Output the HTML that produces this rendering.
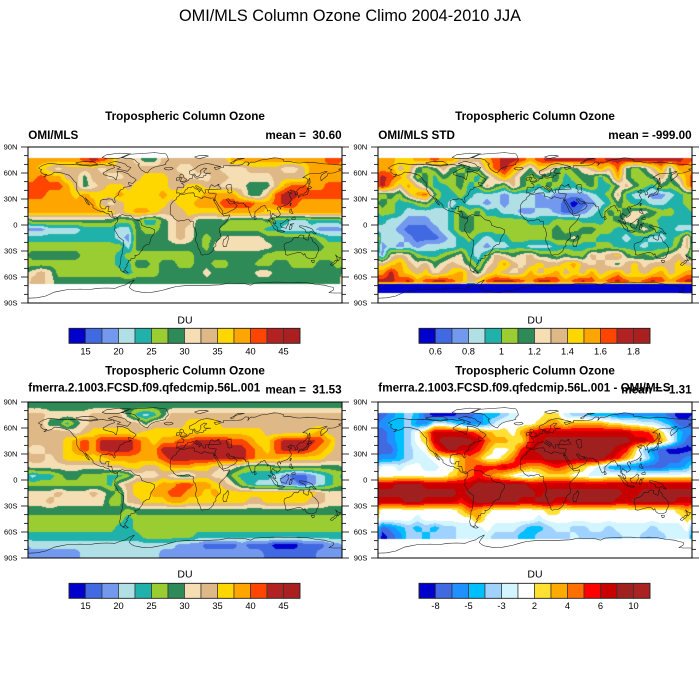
<!DOCTYPE html>
<html><head><meta charset="utf-8">
<style>
html,body{margin:0;padding:0;background:#fff;}
#wrap{position:relative;width:700px;height:700px;overflow:hidden;background:#fff;}
canvas{position:absolute;display:block;}
#ov{position:absolute;left:0;top:0;}
text{font-family:"Liberation Sans",Arial,Helvetica,sans-serif;fill:#000;}
.t{font-size:11.7px;font-weight:bold;}
.ax{font-size:7.6px;text-anchor:end;}
.cb{font-size:9.3px;text-anchor:middle;}
.du{font-size:10.5px;text-anchor:middle;}
</style></head><body><div id="wrap">
<canvas id="mA" width="314" height="156" style="left:28px;top:147px"></canvas>
<canvas id="mB" width="314" height="156" style="left:378px;top:147px"></canvas>
<canvas id="mC" width="314" height="156" style="left:28px;top:402px"></canvas>
<canvas id="mD" width="314" height="156" style="left:378px;top:402px"></canvas>
<svg id="ov" width="700" height="700" xmlns="http://www.w3.org/2000/svg">
<text x="350" y="21" text-anchor="middle" font-size="16.3">OMI/MLS Column Ozone Climo 2004-2010 JJA</text>

<text class="t" x="185" y="120" text-anchor="middle">Tropospheric Column Ozone</text>
<text class="t" x="535" y="120" text-anchor="middle">Tropospheric Column Ozone</text>
<text class="t" x="185" y="374.5" text-anchor="middle">Tropospheric Column Ozone</text>
<text class="t" x="535" y="374.5" text-anchor="middle">Tropospheric Column Ozone</text>

<text class="t" x="28.3" y="139">OMI/MLS</text>
<text class="t" x="341.7" y="139" text-anchor="end">mean =&#160; 30.60</text>
<text class="t" x="378.3" y="139">OMI/MLS STD</text>
<text class="t" x="691.7" y="139" text-anchor="end">mean = -999.00</text>
<text class="t" x="28.3" y="391.6">fmerra.2.1003.FCSD.f09.qfedcmip.56L.001</text>
<text class="t" x="341.7" y="393.3" text-anchor="end">mean =&#160; 31.53</text>
<text class="t" x="378.3" y="391.6">fmerra.2.1003.FCSD.f09.qfedcmip.56L.001 - OMI/MLS</text>
<text class="t" x="691.7" y="393.3" text-anchor="end">mean = -1.31</text>

<text class="ax" x="17.5" y="149.7">90N</text><text class="ax" x="17.5" y="175.7">60N</text><text class="ax" x="17.5" y="201.7">30N</text><text class="ax" x="17.5" y="227.7">0</text><text class="ax" x="17.5" y="253.7">30S</text><text class="ax" x="17.5" y="279.7">60S</text><text class="ax" x="17.5" y="305.7">90S</text>
<text class="ax" x="367.3" y="149.7">90N</text><text class="ax" x="367.3" y="175.7">60N</text><text class="ax" x="367.3" y="201.7">30N</text><text class="ax" x="367.3" y="227.7">0</text><text class="ax" x="367.3" y="253.7">30S</text><text class="ax" x="367.3" y="279.7">60S</text><text class="ax" x="367.3" y="305.7">90S</text>
<text class="ax" x="17.5" y="404.7">90N</text><text class="ax" x="17.5" y="430.7">60N</text><text class="ax" x="17.5" y="456.7">30N</text><text class="ax" x="17.5" y="482.7">0</text><text class="ax" x="17.5" y="508.7">30S</text><text class="ax" x="17.5" y="534.7">60S</text><text class="ax" x="17.5" y="560.7">90S</text>
<text class="ax" x="367.3" y="404.7">90N</text><text class="ax" x="367.3" y="430.7">60N</text><text class="ax" x="367.3" y="456.7">30N</text><text class="ax" x="367.3" y="482.7">0</text><text class="ax" x="367.3" y="508.7">30S</text><text class="ax" x="367.3" y="534.7">60S</text><text class="ax" x="367.3" y="560.7">90S</text>

<text class="du" x="185" y="323.5">DU</text>
<text class="du" x="535" y="323.5">DU</text>
<text class="du" x="185" y="577.5">DU</text>
<text class="du" x="535" y="577.5">DU</text>

<text class="cb" x="85.5" y="354.3">15</text><text class="cb" x="118.5" y="354.3">20</text><text class="cb" x="151.5" y="354.3">25</text><text class="cb" x="184.5" y="354.3">30</text><text class="cb" x="217.5" y="354.3">35</text><text class="cb" x="250.5" y="354.3">40</text><text class="cb" x="283.5" y="354.3">45</text>
<text class="cb" x="435.5" y="354.3">0.6</text><text class="cb" x="468.5" y="354.3">0.8</text><text class="cb" x="501.5" y="354.3">1</text><text class="cb" x="534.5" y="354.3">1.2</text><text class="cb" x="567.5" y="354.3">1.4</text><text class="cb" x="600.5" y="354.3">1.6</text><text class="cb" x="633.5" y="354.3">1.8</text>
<text class="cb" x="85.5" y="608.8">15</text><text class="cb" x="118.5" y="608.8">20</text><text class="cb" x="151.5" y="608.8">25</text><text class="cb" x="184.5" y="608.8">30</text><text class="cb" x="217.5" y="608.8">35</text><text class="cb" x="250.5" y="608.8">40</text><text class="cb" x="283.5" y="608.8">45</text>
<text class="cb" x="435.5" y="608.8">-8</text><text class="cb" x="468.5" y="608.8">-5</text><text class="cb" x="501.5" y="608.8">-3</text><text class="cb" x="534.5" y="608.8">2</text><text class="cb" x="567.5" y="608.8">4</text><text class="cb" x="600.5" y="608.8">6</text><text class="cb" x="633.5" y="608.8">10</text>
<g id="dyn"></g>
</svg>
</div>
<script>
(function(){
var PA=["#0000CD","#4169E1","#7399EE","#B0E0E6","#20B2AA","#9ACD32","#2E8B57","#F5DEB3","#DEB887","#FFD700","#FFA500","#FF4500","#B22222","#AA2020"];
var PD=["#0000CD","#4169E1","#1E90FF","#00BFFF","#A0D2FF","#D2F5FF","#FFFFFF","#FFE033","#FFAA00","#FF6E00","#FF0000","#C80000","#A02020","#AA2222"];
var A1="aaaaaabcba 8876688888 888aaaaaaa aaaabb";
var A15="8876666666 6666666666 6666666666 666666";
var GA=[A1,A1,
"a987888878 8888888778 8877788887 78aaaa",
"abaa886887 7889998877 7887777788 88aaaa",
"bbbba86789 9899998899 887776668a bbaabb",
"bbaaa9a999 a9999a9999 aaaa8668bc cbbbbb",
"aaaaaaaa87 899999899a aabbbbaabc baaaaa",
"aaaaaaaaa9 89aa988899 99aaaaa999 aaaaaa",
"6666666666 5564467886 6665555644 334444",
"2233334444 3365567876 6655555443 333222",
"4444444444 3266667876 5677777666 666544",
"5555555555 5366666666 5777777766 666655",
"6666665555 4555555556 6666666555 555555",
"5555555555 4466566556 6556665566 555665",
"7875555555 5455566666 7666667766 666666",
A15,A15,A15];
var B1="aa99aabaa8 88abccbabc cccccbcccc cccccb";
var GB=[B1,B1,
"aa89656865 669bca8698 65678a8b65 68a6aa",
"cba8564656 5468a86565 6456646a65 56868a",
"ca8a864456 4586586546 5445644686 54656a",
"5658ab6445 4333233323 2222345843 322345",
"6544564434 3323233322 2101234654 433445",
"5543333346 5644332233 2112346567 765544",
"4332223346 6555555444 5554445677 554444",
"3321112346 6555555555 6556655446 764433",
"3332111234 5434455555 6675544434 433458",
"2323233334 4323344333 4444455444 344468",
"2787544567 4358767866 5655878965 656786",
"89a8786787 6478a87898 89a8787689 788898",
"aca989789a 8689878a89 a898a89a89 89a89a",
"ccbcabccba 89bcccbacc babcbabcba bcbabc",
"0000000000 0000000000 0000000000 000000",
"0000000000 0000000000 0000000000 000000"];
var GC=[
"6666666666 6666666666 6666666666 666666",
"8877777888 8643468888 8888888888 888888",
"8866467888 8886888899 9988888888 888888",
"8888878999 9989999999 9999999888 889a88",
"88889abacc ccba9aabbc cccbba99bc cccba8",
"77889abacc ccbaaccccc cccccba9bc ccba98",
"887899999a aaaaabcccc cccccbaaa9 999988",
"7777777778 899889aaa9 9877655566 666666",
"3445665554 4577787668 8775444432 112345",
"5555555554 78999aabba a987543332 212345",
"7778777876 5899aabbaa 9a99999999 999877",
"7787777775 588999aa99 9999988999 998877",
"6666666666 6566666666 6666666666 666666",
"5555555555 5455555555 5555555555 555555",
"5555555555 4455555555 5555555555 555555",
"4444444444 4445555554 4444444444 444444",
"3333333333 3333333222 1111211100 011122",
"2222223333 3333322222 2222222111 111222"];
var D1="1234310001 1233456667 7544333222 222100";
var D15="0124434445 5554443344 4454444455 444555";
var GD=[D1,D1,
"2334225543 2235666678 8788887766 554311",
"123468bbbb a987768abb bbbbbbbbba a97532",
"123467bccc cb98877abc cccccccccb ba8631",
"1134569bcb ba8667abcc cccccccba7 421000",
"2234556668 986679bbbc ccccccba86 531112",
"6656655668 9aaaba9889 a987653222 111223",
"6666666678 9a98765567 7766556666 666666",
"bbcccbbbbb bccccccbbb bbbbbbbbbb bbbbbb",
"cccccccccb ccccccccbc ccccccccbb cccccc",
"bbbccbbbba bcccccbbcc bbcccccbbc ccccbb",
"6666666667 9876666667 7666666666 666678",
"6666566666 6866666656 6666666666 666667",
"1234343445 5565554334 5544554555 545556",
D15,D15,D15];

function hex(h){return [parseInt(h.substr(1,2),16),parseInt(h.substr(3,2),16),parseInt(h.substr(5,2),16)];}
function parse(G){return G.map(function(s){s=s.replace(/ /g,'');while(s.length<36)s+=s.charAt(s.length-1);s=s.substr(0,36);return s.split('').map(function(c){return parseInt(c,16);});});}
var WHITE=[255,255,255], BLUE=[0,0,205];
function draw(id,G,pal,mask){
  var c=document.getElementById(id),ctx=c.getContext('2d');
  var W=c.width,H=c.height,img=ctx.createImageData(W,H),d=img.data;
  var g=parse(G),P=pal.map(hex);
  for(var y=0;y<H;y++){
    var lat=90-(y+0.5)/H*180;
    var fr=(85-lat)/10; if(fr<0)fr=0; if(fr>17)fr=17;
    var j0=Math.floor(fr); if(j0>16)j0=16; var tj=fr-j0;
    var m=mask(lat);
    for(var x=0;x<W;x++){
      var col;
      if(m){col=m;}else{
        var lon=-180+(x+0.5)/W*360;
        var fc=(lon+175)/10,i0=Math.floor(fc),ti=fc-i0;
        i0=((i0%36)+36)%36; var i1=(i0+1)%36;
        var v=(g[j0][i0]*(1-ti)+g[j0][i1]*ti)*(1-tj)+(g[j0+1][i0]*(1-ti)+g[j0+1][i1]*ti)*tj;
        var k=Math.round(v); if(k<0)k=0; if(k>13)k=13; col=P[k];
      }
      var o=(y*W+x)*4; d[o]=col[0];d[o+1]=col[1];d[o+2]=col[2];d[o+3]=255;
    }
  }
  ctx.putImageData(img,0,0);
}
function mAD(lat){return (lat>77.5||lat<-67.5)?WHITE:null;}
function mB(lat){if(lat>77.5)return WHITE; if(lat<-78.5)return WHITE; if(lat<-67.5)return BLUE; return null;}
function mC(lat){return null;}
draw('mA',GA,PA,mAD); draw('mB',GB,PA,mB); draw('mC',GC,PA,mC); draw('mD',GD,PD,mAD);

var NS="http://www.w3.org/2000/svg", dyn=document.getElementById('dyn');
function el(n,a){var e=document.createElementNS(NS,n);for(var k in a)e.setAttribute(k,a[k]);dyn.appendChild(e);return e;}

var coasts=[
[[-168,66],[-163,69],[-156,71.3],[-141,69.6],[-128,70],[-115,68.5],[-108,68],[-95,70],[-88,68.5],[-82,69.5],[-81,66],[-87,64],[-94,60],[-93,58],[-88,56.5],[-82,55],[-79,52],[-78,56],[-77,59],[-78,62],[-73,62],[-70,61],[-65,59],[-62,56],[-58,54],[-56,52],[-60,48],[-65,49],[-64,46],[-61,45.5],[-66,44],[-70,43.5],[-71,41.5],[-74,40.5],[-76,37],[-76,35],[-79,33],[-81,31],[-80,27],[-80.5,25.3],[-82,26.5],[-83,29],[-85,30],[-89,30.2],[-90,29],[-94,29.7],[-97,28],[-97.5,24],[-97.5,21.5],[-95,18.7],[-91.5,18.5],[-90.5,21],[-87,21.5],[-88,17],[-88.5,15.8],[-84,15.8],[-83.3,12],[-83.5,10.5],[-81.5,9],[-79.5,9.5],[-77.5,8.5],[-78,7.5],[-80,7.3],[-81,8],[-83.5,8.5],[-85.7,10],[-87.5,13],[-91.5,14],[-94.5,16],[-97,15.8],[-101,17.3],[-105.5,20],[-105.5,22.5],[-108,25],[-110,27],[-112.5,29.5],[-114.5,31.5],[-112.5,28],[-110,24],[-109.5,23],[-112,24.5],[-114,27.5],[-115,30],[-117,32.5],[-120.5,34.5],[-122.5,37.5],[-124,40.5],[-124,46],[-124.5,48.5],[-127,50.5],[-130,54.5],[-133,57.5],[-136.5,58.5],[-140,59.8],[-146,60.8],[-150,61],[-152,59],[-154,58],[-158,57],[-162,55.5],[-158.5,58.5],[-162,58.5],[-165,60.5],[-165.5,62.5],[-164,64],[-166,64.5],[-168,65.5]],
[[-73,78],[-65,81.5],[-50,82.5],[-35,83.5],[-22,82],[-20,79],[-19,75],[-22,72],[-22,70],[-27,68.5],[-33,67.5],[-38,65.5],[-41,63],[-43,60],[-46,61],[-50,63.5],[-52,66],[-54,69.5],[-52,70.5],[-55,72.5],[-58,75.5],[-62,76.5],[-68,77]],
[[-80,73.5],[-72,71.5],[-68,70],[-66,67.5],[-62,66.5],[-64,64],[-66,62],[-72,63.5],[-78,64.5],[-74,66.5],[-78,68],[-85,70],[-88,71]],
[[-125,72],[-115,73.5],[-105,73],[-100,70],[-108,69],[-118,69.5],[-125,71]],
[[-90,76.5],[-78,76.5],[-70,78.5],[-62,82],[-75,83],[-90,81],[-95,78]],
[[-24,65.5],[-21,66.2],[-15,66.5],[-13.5,65],[-18,63.5],[-22.5,63.8]],
[[-5.5,50],[1.3,51],[1.7,52.8],[0,53.5],[-1.5,55],[-2,57.5],[-3.5,58.6],[-5,58.6],[-6,57],[-5.5,55],[-3,54.5],[-4.5,53.3],[-4.5,52],[-5.2,51.7]],
[[-6,52],[-6,54.5],[-8,55.2],[-10,54],[-10,51.6]],
[[-77.5,8.5],[-75,10.8],[-72,12],[-70,11.5],[-67,10.6],[-62,10.6],[-60,8.5],[-57,6],[-52,5],[-50,1.8],[-50,0],[-48,-1],[-44,-2.5],[-40,-3],[-35,-5.5],[-35,-9],[-37,-12],[-39,-15],[-39.5,-18],[-41,-22],[-44.5,-23],[-48,-25.5],[-48.7,-28.5],[-51,-31],[-53,-34],[-55,-35],[-57.5,-35],[-57,-37],[-58,-38.5],[-62,-39],[-62.3,-41],[-65,-41],[-64.5,-42.5],[-67,-45.5],[-66,-47],[-69,-50.5],[-68.5,-52.5],[-70,-53.5],[-71.5,-54],[-74,-52],[-75,-48],[-74,-44],[-73.5,-40],[-73.5,-37],[-71.5,-32],[-71.3,-28],[-70.5,-23],[-70.2,-18.5],[-72,-17],[-76,-14],[-77,-12],[-79.5,-7.5],[-81.2,-5.5],[-80,-3],[-80.5,-1],[-80,1],[-78.5,2.5],[-77.3,4],[-77.5,7]],
[[-68.5,-52.5],[-65,-55],[-68,-55.5],[-71,-54.5]],
[[-17,14.7],[-16.5,19.5],[-17,21],[-16,24],[-13.5,27.5],[-10,29.5],[-9.8,31.5],[-6.5,34],[-5.8,35.8],[-2,35.1],[3,36.8],[10,37.2],[11,35],[10.5,33.5],[15,32.3],[19.5,30.3],[20,32],[23,32.6],[25,31.7],[29,30.9],[32.5,31.2],[34.2,31.2],[34,28],[32.5,29.8],[33.5,27],[35.5,24],[37.3,21],[38.5,18],[39.7,15.5],[42,13],[43.3,12],[44.5,10.4],[51.2,11.8],[51,10.4],[48,5],[45,2],[42,-1],[40.2,-3],[39.2,-5],[39.5,-8],[40.5,-10.5],[40.5,-15],[37,-18],[35.2,-21.5],[35.5,-24],[33,-26],[32.5,-29],[30,-31.5],[27.5,-33.5],[25,-34],[22,-34.2],[20,-34.8],[18.4,-34],[18,-32],[16.5,-28.5],[15,-26.5],[14.5,-22.5],[12,-18],[11.8,-15.5],[13.5,-12],[13,-9],[12,-6],[12,-4.5],[10,-2.5],[9.3,0],[9.5,2.5],[9.5,4],[8.5,4.5],[6,4.3],[4.5,6.3],[2,6.3],[-2,4.8],[-5,5.1],[-7.5,4.4],[-9.5,5.5],[-11.5,6.8],[-13,8],[-13.3,9.5],[-15,11],[-16.7,12.5]],
[[44.2,-25],[47.2,-25],[49.5,-17],[50.3,-15.5],[49.2,-12],[48,-13.5],[46.4,-15.8],[44.3,-17],[43.3,-22]],
[[-9.5,36.5],[-9.4,39],[-8.9,43],[-7.8,43.7],[-1.5,43.4],[-1.2,46],[-2.5,47.3],[-4.5,48.5],[-1.5,48.7],[1.5,50.2],[4,51.5],[5,53.3],[8.5,53.8],[8.5,57],[10.5,57.7],[10.5,56],[12,54.3],[14,54],[18,54.8],[21,55.2],[21.5,57.2],[24,57.2],[24,59.3],[29.5,59.8],[22.5,60],[21.5,62],[25,65],[22,65.8],[17.5,62.5],[18.5,60],[16.5,57],[14,55.5],[12.7,56],[11,59],[8,58.1],[5.5,58.9],[5,62],[8,63.5],[12,65.5],[15,68],[19,69.8],[25,71],[31,70],[33,69.3],[41,67.3],[33.5,66.5],[35,64.3],[37.5,64.5],[41,66],[44,66.2],[44,68.5],[53.5,68.5],[60,68.8],[65,69.5],[69,72.8],[73,72.5],[72,68.5],[75,72.5],[80,72.5],[87,75],[95,76],[102,77.5],[107,77.2],[113,75.5],[113,73.5],[121,73],[129,71.5],[133,71.5],[140,72.5],[150,71.8],[160,70.5],[170,70],[180,69],[180,65],[176,64.5],[178.5,63],[173,61],[170,60],[164,59.8],[163,57],[162,56],[156,51],[155.5,55],[156.5,57.7],[161,60.2],[163,61.6],[160,61.5],[154,59.3],[148,59.3],[142,59],[135,54.7],[139,54.2],[141,52.3],[140.5,48.5],[138,46],[135,43.3],[132,43.2],[129.7,41],[128,39],[129.3,37],[129.2,35.3],[126.5,34.5],[126.2,37.3],[124.7,39.7],[121.5,39],[121.6,40.9],[119,39],[117.5,38.5],[119,37.2],[122.5,37],[120.5,36],[119.5,34.5],[121,32],[122,30],[121.5,28],[119.6,25.5],[117,23.5],[113.5,22.2],[110,21],[109.7,18.3],[108,21.5],[106,20],[105.7,18.8],[107.5,16.5],[109.3,13],[109,11.5],[106.5,9.5],[105,8.6],[104.8,10.5],[103,11],[100.5,13.5],[99.2,10],[100.3,6.5],[101.3,2.9],[103.5,1.3],[104.2,1.5],[103.2,5],[102.2,6.2],[100.6,7],[98.3,8.2],[98.5,12],[97.5,16.7],[94.3,16],[94.2,18.5],[92.3,20.7],[91.5,22.8],[89,21.8],[86.8,21],[86.5,20],[85,19.3],[82.2,16.6],[80.2,15.5],[80,10.3],[77.5,8],[76.5,8.9],[74.8,12.8],[73.5,16],[72.8,19],[72.6,21.3],[70.5,20.8],[68.8,22.3],[70.2,22.8],[68.2,23.7],[66.5,25.4],[61.5,25.2],[57.4,25.7],[56.4,27.1],[54,26.7],[51.5,27.9],[50.1,30.2],[48,30],[47.5,29],[48.8,27.7],[50,26.5],[50.8,24.8],[51.6,24.2],[52.5,24.2],[54.5,24.3],[56.2,26.2],[56.4,24.9],[58.8,23.6],[59.8,22.3],[58.5,20.4],[57.7,19],[55.3,17.6],[52.4,16.4],[48.7,14],[45,13],[43.5,12.6],[42.6,15.5],[42.7,16.8],[40.5,19.8],[38.9,22],[37.5,24.3],[35.5,27.7],[34.8,28],[34.3,31.2],[35,33],[36,35.8],[32.5,36.1],[29.5,36.3],[27.3,37],[26.2,39.5],[28,41],[28.8,44.5],[30.5,46.6],[33.5,44.5],[36.5,45.3],[38,47],[39.2,47.1],[37.6,46.2],[39.8,44],[41.5,41.5],[36.8,41.3],[31,41.2],[29,41.1],[26.3,40.9],[22.8,40.5],[24,38],[22.5,36.5],[21,37.7],[19.4,40.3],[19,42],[15.6,44],[13.7,45.2],[12.3,45.2],[12.4,44.2],[14,42.5],[16,41.5],[18.5,40.2],[17,39],[16.5,38],[15.7,40],[13.6,41.2],[11,42.5],[10,44],[8.5,44.3],[6.5,43.1],[3.1,43.1],[3.2,41.9],[0.8,41],[0,39.5],[-0.7,37.6],[-2.1,36.7],[-4.4,36.7],[-5.4,36],[-6.5,36.9],[-7.5,37.1],[-9,37]],
[[47,45],[49,46.5],[53,46.5],[53,42],[54,38],[51,36.7],[49,38],[49.5,40.3],[47.5,42.5]],
[[130,31.5],[131.5,33.5],[135,33.6],[137,34.6],[140,35],[141,37.5],[142,40],[141.3,41.5],[140,40.5],[139.8,38.5],[137,36.9],[136,35.7],[133,35.5],[131,34.4],[130,33]],
[[140,41.5],[141.5,42.5],[143.5,42],[145.5,43.3],[142,45.4],[141.5,43.5]],
[[142,46],[143.5,49],[143,54],[142.5,54],[142,51]],
[[120.2,22.6],[121,22],[122,25],[121,25.2]],
[[120,14.5],[120.5,18.5],[122.2,18.5],[122,16.5],[124,13.5],[122,13.5]],
[[122,7],[124,6],[126.5,6.5],[126,9.5],[123.5,8.5]],
[[109,1.5],[111,2],[113,3.2],[115.5,5],[117,7],[119.2,5.2],[118,4.5],[118.5,1],[117.5,0],[116.5,-2],[116,-3.8],[114.5,-3.5],[111,-3],[110,-1.5]],
[[95.3,5.6],[97.5,5.2],[100.4,2.2],[103.5,-0.5],[106,-3],[105.8,-5.8],[104.5,-5.9],[102,-4],[100.5,-1],[98.7,1.7]],
[[105.5,-6.8],[108,-6.4],[111,-6.4],[114.5,-7.7],[112,-8.3],[108,-7.8]],
[[119.5,-5.5],[120.3,-1],[121,1],[124.8,1.5],[121,0.5],[123,-1],[121.5,-4.7]],
[[131,-1],[134,-1],[138,-1.7],[141,-2.6],[145.5,-4.5],[148,-8],[150.5,-10.4],[147.5,-10],[146,-8],[144,-7.7],[142.5,-9.3],[141,-9.1],[138.5,-8.3],[137.8,-5.4],[134,-3.5],[132,-2.5]],
[[113.8,-22],[113.5,-25],[115,-30],[115,-34],[118,-35],[121.5,-33.8],[124,-33],[127,-32.3],[131.2,-31.5],[134.2,-32.6],[136,-34.8],[137.5,-33],[138,-35.6],[140,-37.8],[143.5,-38.8],[146.5,-39],[150,-37.5],[151.3,-33.5],[153.1,-30.5],[153.1,-26],[150.8,-22.6],[149,-20.8],[146.3,-18.8],[145.3,-15],[143.5,-14],[142.5,-10.7],[141.5,-13.5],[141.6,-17],[140.2,-17.7],[139,-17],[135.5,-15],[136.5,-12],[132.5,-11.5],[131,-12.2],[129.5,-14.9],[127.5,-14],[125,-14.7],[123.3,-17],[121.5,-19],[119,-20],[116,-20.8]],
[[144.7,-40.7],[148.3,-40.9],[148,-43],[146,-43.6]],
[[172.7,-34.4],[174.5,-36.5],[175.8,-37],[178.5,-37.7],[177,-39.3],[176,-41.3],[174.7,-41.3],[175.2,-40],[174,-39.3],[174.5,-38],[173,-35.5]],
[[172.7,-40.5],[174.2,-41.4],[173,-43.5],[171,-44.6],[169,-46.6],[166.5,-46],[168,-44],[170.5,-42.8]],
[[79.8,6],[81.8,7],[81,9.5],[80,9.7]],
[[52,71.5],[56,73.5],[60,76.5],[68,77],[58,74.5],[55,71],[53,70.7]],
[[11,78.5],[16,80],[24,80.4],[27,79.5],[18,77],[14,77.2]]
];
var antarc=[[-180,-84.5],[-170,-84],[-160,-82],[-150,-77.5],[-145,-76.5],[-135,-74.5],[-120,-74],[-110,-74.5],[-100,-73],[-90,-72.7],[-80,-73],[-75,-71],[-68,-69],[-64,-66],[-58,-63.5],[-60,-66],[-62,-68.5],[-64,-72],[-61,-74.5],[-58,-76],[-50,-77.5],[-40,-78],[-34,-77],[-26,-75.5],[-18,-73],[-10,-71],[0,-70],[10,-70],[20,-70],[30,-69.5],[40,-69],[50,-67],[60,-67.5],[70,-68],[75,-69.5],[80,-67],[90,-66.5],[100,-66],[110,-66],[120,-66.5],[130,-66],[140,-66.5],[150,-68.5],[160,-69.5],[165,-71],[170,-72],[170,-75],[165,-78],[170,-78.5],[180,-78.5]];

var rects=[[28,147,314,156],[378,147,314,156],[28,402,314,156],[378,402,314,156]];
rects.forEach(function(r){
  function P(p){return (r[0]+(p[0]+180)/360*r[2]).toFixed(1)+','+(r[1]+(90-p[1])/180*r[3]).toFixed(1);}
  var d='';
  coasts.forEach(function(poly){d+='M'+poly.map(P).join('L')+'Z';});
  d+='M'+antarc.map(P).join('L');
  el('path',{d:d,fill:'none',stroke:'#111','stroke-width':'0.55','stroke-linejoin':'round','stroke-opacity':'0.9'});
  el('rect',{x:r[0],y:r[1],width:r[2],height:r[3],fill:'none',stroke:'#000','stroke-width':'1'});
  for(var lat=90;lat>=-90;lat-=10){
    var y=r[1]+(90-lat)/180*r[3], L=(lat%30===0)?7:4;
    el('line',{x1:r[0]-L,y1:y,x2:r[0],y2:y,stroke:'#000','stroke-width':'0.8'});
    el('line',{x1:r[0]+r[2],y1:y,x2:r[0]+r[2]+L,y2:y,stroke:'#000','stroke-width':'0.8'});
  }
});
function cbar(x0,y0,w,h,pal){
  var bw=w/14;
  for(var i=0;i<14;i++){el('rect',{x:(x0+i*bw).toFixed(2),y:y0,width:bw.toFixed(2),height:h,fill:pal[i],stroke:'#333','stroke-width':'0.7'});}
  el('rect',{x:x0,y:y0,width:w,height:h,fill:'none',stroke:'#222','stroke-width':'0.8'});
}
cbar(69,328.3,231,15,PA); cbar(419,328.3,231,15,PA); cbar(69,583.3,231,15,PA); cbar(419,583.3,231,15,PD);
})();
</script>
</body></html>
